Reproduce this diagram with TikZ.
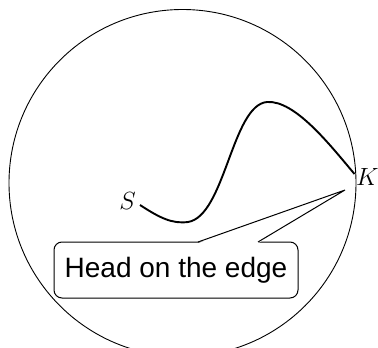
\documentclass[tikz,border=0pt]{standalone}
\usepackage{fontspec}
\newfontfamily\arialfont{Liberation Sans}
\begin{document}
\begin{tikzpicture}[x=1pt,y=-1pt,
  lbl/.style={inner sep=0pt,font=\fontsize{24}{24}\selectfont},
  callout/.style={draw,line width=1pt,fill=white,rounded corners=8pt,minimum width=244pt,minimum height=56pt,inner sep=0pt,font=\arialfont\fontsize{28}{28}\selectfont}]
\useasboundingbox (0,0) rectangle (378,348);
\clip (0,0) rectangle (378,348);
\coordinate (c) at (182.5,183);
\draw[line width=0.9pt] (c) circle[radius=173.5];
\coordinate (s0) at (140,205);
\coordinate (k0) at (354.5,174);
\node[lbl,anchor=east] (S) at (136,201) {$S$};
\node[lbl,anchor=west] (K) at (356,177) {$K$};
\draw[line width=1.9pt] (s0) .. controls (160,218) and (172,224) .. (188,222)
  .. controls (225,216) and (232,105) .. (267,102)
  .. controls (295,100) and (330,145) .. (k0);
\node[callout] (box) at (176,270) {Head on the edge};
\coordinate (tip) at (345,190);
\coordinate (b1) at (198,242);
\coordinate (b2) at (258,242);
\fill[white] ([yshift=-1.2pt]b1) -- (tip) -- ([yshift=-1.2pt]b2) -- cycle;
\draw[line width=1pt,line join=miter] (b1) -- (tip) -- (b2);
\end{tikzpicture}
\end{document}
